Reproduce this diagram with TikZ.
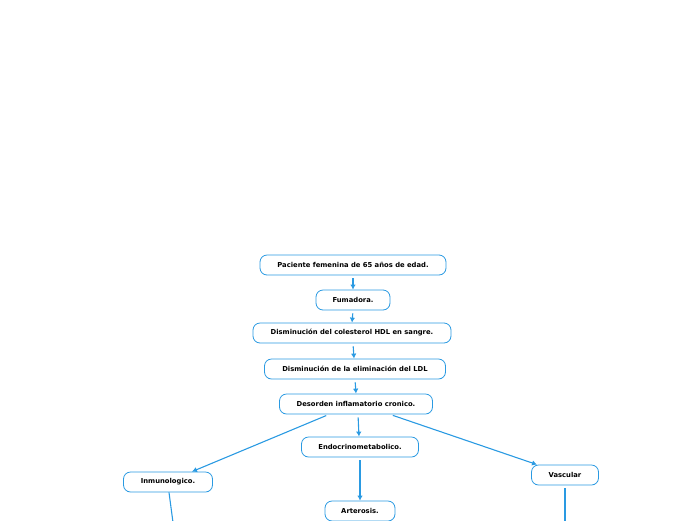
\documentclass[tikz,border=0pt]{standalone}
\usepackage{fontspec}
\setmainfont{DejaVu Sans}
\usetikzlibrary{arrows.meta}
\definecolor{mapblue}{HTML}{2A9AE2}

\begin{document}
\begin{tikzpicture}[x=1pt, y=-1pt,
        box/.style={draw=mapblue, line width=0.8pt, rounded corners=7pt, fill=white,
            inner sep=0pt, minimum height=20pt, font=\bfseries\fontsize{6.8}{7}\selectfont},
        link/.style={draw=mapblue, line width=1.1pt, shorten <=3pt},
        arr/.style={link, -{Latex[length=5pt,width=5.5pt]}}]
        \useasboundingbox (0,0) rectangle (696,520);
        \clip (0,0) rectangle (696,520);

        % Chain.
        \node[box, minimum width=186pt] (pac) at (353,265) {Paciente femenina de 65 años de edad.};
        \node[box, minimum width=74pt] (fum) at (353,300) {Fumadora.};
        \node[box, minimum width=198pt] (hdl) at (352,333) {Disminución del colesterol HDL en sangre.};
        \node[box, minimum width=181pt] (ldl) at (355,369) {Disminución de la eliminación del LDL};
        \node[box, minimum width=153pt] (des) at (356,404) {Desorden inflamatorio cronico.};

        % Branches.
        \node[box, minimum width=117pt] (end) at (360,447) {Endocrinometabolico.};
        \node[box, minimum width=89pt] (inm) at (168,482) {Inmunologico.};
        \node[box, minimum width=67pt] (vas) at (565,475) {Vascular};
        \node[box, minimum width=70pt] (art) at (360,511) {Arterosis.};

        \coordinate (inmend) at (174,530);
        \coordinate (vasend) at (565,530);

        \draw[arr] (pac.south) -- (fum.north);
        \draw[arr] (fum.south) -- (hdl.north);
        \draw[arr] ([xshift=1pt]hdl.south) -- ([xshift=2pt]hdl.south |- ldl.north);
        \draw[arr] (ldl.south) -- ([xshift=1pt]ldl.south |- des.north);
        \draw[arr] ([xshift=-27pt]des.south) -- ([xshift=24pt]inm.north);
        \draw[arr] ([xshift=2pt]des.south) -- ([xshift=-1pt]end.north);
        \draw[arr] ([xshift=34pt]des.south) -- ([xshift=-28pt]vas.north);
        \draw[arr] (end.south) -- (art.north);
        \draw[link, shorten <=0pt] ([xshift=1pt]inm.south) -- (inmend);
        \draw[link] (vas.south) -- (vasend);
    \end{tikzpicture}
\end{document}
